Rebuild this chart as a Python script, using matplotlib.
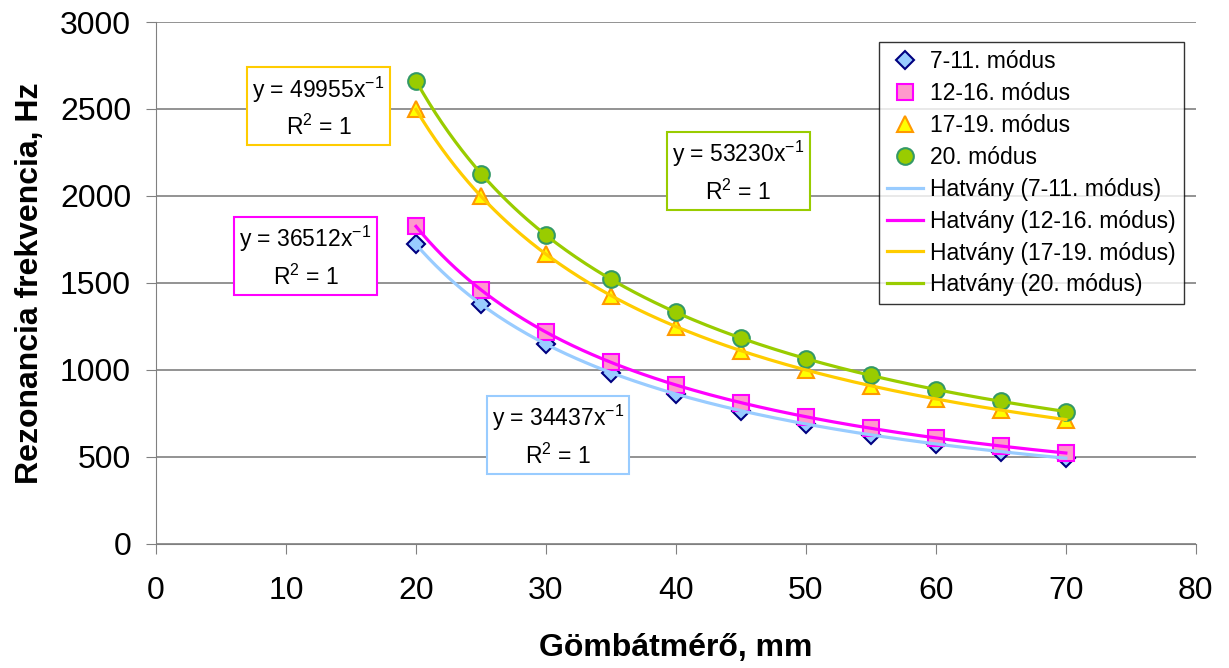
import numpy as np
import matplotlib.pyplot as plt
from matplotlib import rcParams

rcParams['font.family'] = ['Liberation Sans', 'DejaVu Sans']
rcParams['mathtext.fontset'] = 'custom'
rcParams['mathtext.rm'] = 'Liberation Sans'

# gömbátmérő (mm)
diameter = [20, 25, 30, 35, 40, 45, 50, 55, 60, 65, 70]

# rezonancia frekvenciák (Hz)
mode_7_11 = [1722, 1377, 1148, 984, 861, 765, 689, 626, 574, 530, 492]
mode_12_16 = [1826, 1460, 1217, 1043, 913, 811, 730, 664, 609, 562, 522]
mode_17_19 = [2498, 1998, 1665, 1427, 1249, 1110, 999, 908, 833, 769, 714]
mode_20 = [2662, 2129, 1774, 1521, 1331, 1183, 1065, 968, 887, 819, 760]

names = ['7-11. módus', '12-16. módus', '17-19. módus', '20. módus']
eq_labels = ['y = 34437x$^{-1}$\nR$^{2}$ = 1', 'y = 36512x$^{-1}$\nR$^{2}$ = 1',
             'y = 49955x$^{-1}$\nR$^{2}$ = 1', 'y = 53230x$^{-1}$\nR$^{2}$ = 1']
eq_pos = [(30.9, 621), (11.5, 1649), (12.5, 2511), (44.8, 2138)]

series = [mode_7_11, mode_12_16, mode_17_19, mode_20]
markers = ['D', 's', '^', 'o']
msizes = [9, 11, 12, 12]
faces = ['#99CCFF', '#FF99CC', '#FFFF00', '#99CC00']
edges = ['#000080', '#FF00FF', '#FF9900', '#339966']
lines = ['#99CCFF', '#FF00FF', '#FFCC00', '#99CC00']

fig = plt.figure(figsize=(12.29, 6.68), dpi=100)
ax = fig.add_axes([0.127, 0.186, 0.846, 0.781])

x = np.array(diameter, dtype=float)
marker_handles = []
line_handles = []
for i, y in enumerate(series):
    h, = ax.plot(x, y, linestyle='none', marker=markers[i], markersize=msizes[i],
                 markerfacecolor=faces[i], markeredgecolor=edges[i],
                 markeredgewidth=1.5, label=names[i], zorder=3)
    marker_handles.append(h)

for i, y in enumerate(series):
    # hatvány trendvonal (illesztés log-log térben)
    b, a = np.polyfit(np.log(x), np.log(np.array(y, dtype=float)), 1)
    xs = np.linspace(20, 70, 200)
    ys = np.exp(a) * xs ** b
    h, = ax.plot(xs, ys, color=lines[i], linewidth=2.3,
                 label='Hatvány (' + names[i] + ')', zorder=4)
    line_handles.append(h)

for i in range(4):
    ax.text(eq_pos[i][0], eq_pos[i][1], eq_labels[i], ha='center', va='center',
            fontsize=16.5, linespacing=1.5, zorder=5,
            bbox=dict(boxstyle='square,pad=0.22', facecolor='white',
                      edgecolor=lines[i], linewidth=1.5))

ax.set_xlim(0, 80)
ax.set_ylim(0, 3000)
ax.set_xticks(range(0, 81, 10))
ax.set_yticks(range(0, 3001, 500))
ax.yaxis.grid(True, color='#808080', linewidth=1.2)
ax.set_axisbelow(True)
for s in ['top', 'right']:
    ax.spines[s].set_visible(False)
for s in ['left', 'bottom']:
    ax.spines[s].set_color('#808080')
ax.tick_params(direction='out', length=7, color='#808080', labelsize=23)
ax.tick_params(axis='x', pad=16)
ax.tick_params(axis='y', pad=11)

ax.set_xlabel('Gömbátmérő, mm', fontsize=23, fontweight='bold', labelpad=20)
ax.set_ylabel('Rezonancia frekvencia, Hz', fontsize=23, fontweight='bold', labelpad=11)

leg = ax.legend(handles=marker_handles + line_handles, loc='upper left',
                bbox_to_anchor=(0.695, 0.962), fontsize=16.5, frameon=True,
                fancybox=False, edgecolor='black', handlelength=1.6,
                handletextpad=0.3, borderpad=0.35, borderaxespad=0,
                labelspacing=0.39)
leg.get_frame().set_linewidth(1.0)

plt.savefig('out.png', dpi=100)
